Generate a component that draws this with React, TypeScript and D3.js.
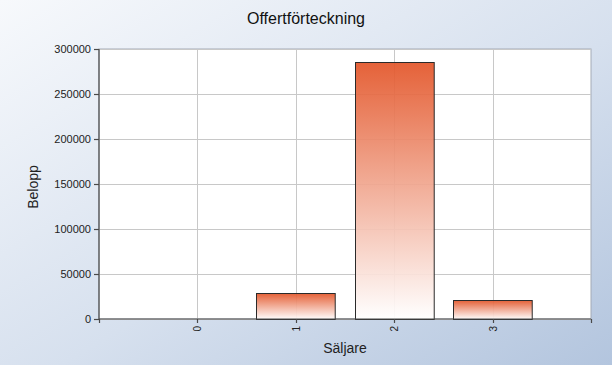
import * as d3 from "d3";
import { useEffect, useRef } from "react";

// chart data
const sellers = [0, 1, 2, 3];
const amounts = [0, 29000, 285500, 21000];
const yTicks = [0, 50000, 100000, 150000, 200000, 250000, 300000];

const W = 612;
const H = 365;
const plot = { left: 99, right: 591, top: 49, bottom: 319 };
const font = "'Liberation Sans', Arial, sans-serif";

export default function App() {
  const ref = useRef<SVGSVGElement>(null);

  useEffect(() => {
    const svg = d3.select(ref.current);
    svg.selectAll("*").remove();

    const defs = svg.append("defs");
    const bg = defs
      .append("linearGradient")
      .attr("id", "bg")
      .attr("x1", 0)
      .attr("y1", 0)
      .attr("x2", 1)
      .attr("y2", 1);
    bg.append("stop").attr("offset", "0%").attr("stop-color", "#f7f9fc");
    bg.append("stop").attr("offset", "55%").attr("stop-color", "#d6e0ee");
    bg.append("stop").attr("offset", "100%").attr("stop-color", "#b3c5de");

    const barGrad = defs
      .append("linearGradient")
      .attr("id", "bar")
      .attr("x1", 0)
      .attr("y1", 0)
      .attr("x2", 0)
      .attr("y2", 1);
    barGrad.append("stop").attr("offset", "0%").attr("stop-color", "#e3562a");
    barGrad.append("stop").attr("offset", "100%").attr("stop-color", "#ffffff");

    svg.append("rect").attr("width", W).attr("height", H).attr("fill", "url(#bg)");

    const x = d3.scaleLinear().domain([-1, 4]).range([plot.left, plot.right]);
    const y = d3.scaleLinear().domain([0, 300000]).range([plot.bottom, plot.top]);
    const step = x(1) - x(0);
    const barW = step * 0.8;

    // plot area
    svg
      .append("rect")
      .attr("x", plot.left)
      .attr("y", plot.top)
      .attr("width", plot.right - plot.left)
      .attr("height", plot.bottom - plot.top)
      .attr("fill", "#fff")
      .attr("stroke", "#a3aab5")
      .attr("stroke-width", 1);

    // gridlines
    svg
      .selectAll(".hgrid")
      .data(yTicks)
      .enter()
      .append("line")
      .attr("x1", plot.left)
      .attr("x2", plot.right)
      .attr("y1", (d) => Math.round(y(d)) + 0.5)
      .attr("y2", (d) => Math.round(y(d)) + 0.5)
      .attr("stroke", "#c8c8c8");

    svg
      .selectAll(".vgrid")
      .data(sellers)
      .enter()
      .append("line")
      .attr("x1", (d) => Math.round(x(d)) + 0.5)
      .attr("x2", (d) => Math.round(x(d)) + 0.5)
      .attr("y1", plot.top)
      .attr("y2", plot.bottom)
      .attr("stroke", "#c8c8c8");

    // bars
    svg
      .selectAll(".bar")
      .data(sellers.filter((d) => amounts[d] > 0))
      .enter()
      .append("rect")
      .attr("x", (d) => Math.round(x(d) - barW / 2) + 0.5)
      .attr("y", (d) => Math.round(y(amounts[d])) + 0.5)
      .attr("width", barW)
      .attr("height", (d) => Math.round(y(0)) - Math.round(y(amounts[d])))
      .attr("fill", "url(#bar)")
      .attr("fill-opacity", 0.93)
      .attr("stroke", "#2a2a2a")
      .attr("stroke-width", 1);

    // axes
    const ax = svg.append("g").attr("stroke", "#4a4a4a").attr("stroke-width", 1.2);
    ax.append("line")
      .attr("x1", plot.left)
      .attr("x2", plot.left)
      .attr("y1", plot.top)
      .attr("y2", plot.bottom);
    ax.append("line")
      .attr("x1", plot.left)
      .attr("x2", plot.right)
      .attr("y1", plot.bottom)
      .attr("y2", plot.bottom);
    ax.selectAll(".yt")
      .data(yTicks)
      .enter()
      .append("line")
      .attr("x1", plot.left - 5)
      .attr("x2", plot.left)
      .attr("y1", (d) => Math.round(y(d)) + 0.5)
      .attr("y2", (d) => Math.round(y(d)) + 0.5);
    ax.selectAll(".xt")
      .data([-1, 0, 1, 2, 3, 4])
      .enter()
      .append("line")
      .attr("x1", (d) => Math.round(x(d)) + 0.5)
      .attr("x2", (d) => Math.round(x(d)) + 0.5)
      .attr("y1", plot.bottom)
      .attr("y2", plot.bottom + 4);

    // tick labels
    svg
      .selectAll(".yl")
      .data(yTicks)
      .enter()
      .append("text")
      .attr("x", plot.left - 8)
      .attr("y", (d) => y(d))
      .attr("dy", "0.35em")
      .attr("text-anchor", "end")
      .attr("font-family", font)
      .attr("font-size", 11)
      .attr("fill", "#222")
      .text((d) => String(d));

    svg
      .selectAll(".xl")
      .data(sellers)
      .enter()
      .append("text")
      .attr("transform", (d) => `translate(${x(d) + 4},${plot.bottom + 7}) rotate(-90)`)
      .attr("text-anchor", "end")
      .attr("font-family", font)
      .attr("font-size", 10)
      .attr("fill", "#222")
      .text((d) => String(d));

    // titles
    svg
      .append("text")
      .attr("x", W / 2)
      .attr("y", 24)
      .attr("text-anchor", "middle")
      .attr("font-family", font)
      .attr("font-size", 16)
      .attr("fill", "#111")
      .text("Offertförteckning");

    svg
      .append("text")
      .attr("x", (plot.left + plot.right) / 2)
      .attr("y", 353)
      .attr("text-anchor", "middle")
      .attr("font-family", font)
      .attr("font-size", 14)
      .attr("fill", "#222")
      .text("Säljare");

    svg
      .append("text")
      .attr("transform", `translate(38,${(plot.top + plot.bottom) / 2 + 3}) rotate(-90)`)
      .attr("text-anchor", "middle")
      .attr("font-family", font)
      .attr("font-size", 14)
      .attr("fill", "#222")
      .text("Belopp");
  }, []);

  return (
    <div style={{ position: "fixed", left: 0, top: 0 }}>
      <svg ref={ref} width={W} height={H} style={{ display: "block" }}></svg>
    </div>
  );
}
